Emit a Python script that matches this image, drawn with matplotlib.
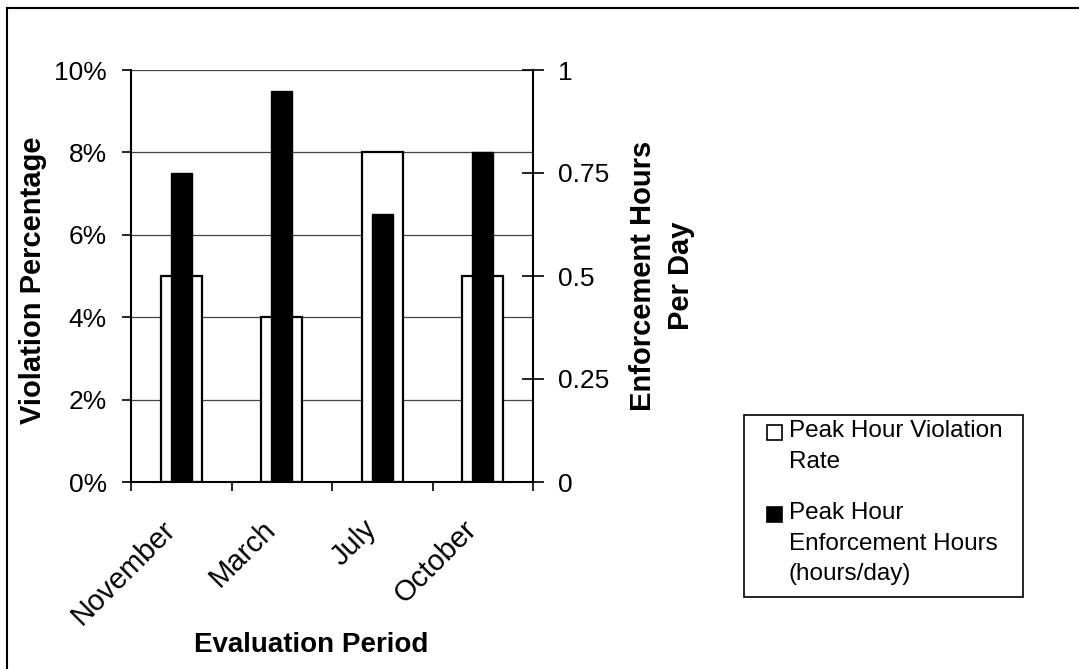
import numpy as np
import matplotlib
matplotlib.use("Agg")
import matplotlib.pyplot as plt
import matplotlib.transforms as mtransforms
from matplotlib.patches import Rectangle
from matplotlib.lines import Line2D
from matplotlib.ticker import PercentFormatter

# data
periods = ["November", "March", "July", "October"]
violation_rate = [5, 4, 8, 5]            # percent
enforcement_hours = [0.75, 0.95, 0.65, 0.80]   # hours/day
left_ticks = [0, 2, 4, 6, 8, 10]
right_ticks = [0, 0.25, 0.5, 0.75, 1]
right_tick_labels = ["0", "0.25", "0.5", "0.75", "1"]

plt.rcParams['font.family'] = ['Liberation Sans', 'DejaVu Sans']

W, H = 1079, 669
fig = plt.figure(figsize=(W / 100, H / 100), dpi=100)

def fx(px):
    return px / W

def fy(py):
    return 1 - py / H

# plot area in pixels: x 131..533, y 70..482
ax = fig.add_axes([fx(131), fy(482), fx(533) - fx(131), fy(70) - fy(482)])
ax2 = ax.twinx()

x = np.arange(len(periods))

ax.bar(x, violation_rate, width=0.41, color='white', edgecolor='black',
       linewidth=1.6, zorder=2)
ax2.bar(x, enforcement_hours, width=0.21, color='black', edgecolor='black',
        linewidth=1, zorder=2)

ax.set_xlim(-0.5, len(periods) - 0.5)
ax.set_ylim(0, 10)
ax2.set_ylim(0, 1)

# grid
ax.set_axisbelow(True)
ax.yaxis.grid(True, color='#444444', linewidth=0.9)
ax.set_yticks(left_ticks)
ax.yaxis.set_major_formatter(PercentFormatter(decimals=0))

ax2.set_yticks(right_ticks)
ax2.set_yticklabels(right_tick_labels)

# x ticks: marks at category boundaries, slanted names drawn as text
ax.set_xticks([])
ax.set_xticks(np.arange(-0.5, len(periods)), minor=True)
ax.tick_params(axis='x', which='minor', length=6.5, width=1.2, direction='out')
label_shift = mtransforms.ScaledTranslation(-0.2, -0.33, fig.dpi_scale_trans)
for xi, name in zip(x, periods):
    ax.text(xi, 0, name, transform=ax.get_xaxis_transform() + label_shift,
            rotation=45, ha='right', va='top', rotation_mode='anchor',
            fontsize=21)

ax.tick_params(axis='y', length=6.5, width=1.2, direction='out', pad=11,
               labelsize=19)
ax2.tick_params(axis='y', length=16, width=1.2, direction='inout', pad=10,
                labelsize=19)

for a in (ax, ax2):
    a.spines['top'].set_visible(False)
    for s in ('left', 'right', 'bottom'):
        a.spines[s].set_linewidth(1.5)
ax.spines['right'].set_visible(False)
ax2.spines['left'].set_visible(False)
ax2.spines['bottom'].set_visible(False)

# axis titles
ax.set_xlabel("Evaluation Period", fontsize=20, fontweight='bold')
ax.xaxis.set_label_coords((311 - 131) / 402, (482 - 645) / 412)
ax.xaxis.label.set_va('center')

ax.set_ylabel("Violation Percentage", fontsize=21, fontweight='bold')
ax.yaxis.set_label_coords((33 - 131) / 402, (482 - 280) / 412)
ax.yaxis.label.set_va('center')

ax2.set_ylabel("Enforcement Hours\nPer Day", fontsize=21, fontweight='bold',
               rotation=90, linespacing=1.45)
ax2.yaxis.set_label_coords((662 - 131) / 402, (482 - 276) / 412)
ax2.yaxis.label.set_va('center')
ax2.yaxis.label.set_ha('center')

# legend drawn by hand (box, swatches, text) in pixel positions
fig.patches.append(Rectangle((fx(744), fy(597)), fx(1023) - fx(744),
                             fy(415) - fy(597), transform=fig.transFigure,
                             facecolor='white', edgecolor='black',
                             linewidth=1.2))
legend_items = [("white", "Peak Hour Violation\nRate", 433),
                ("black", "Peak Hour\nEnforcement Hours\n(hours/day)", 515)]
for color, label, yc in legend_items:
    fig.patches.append(Rectangle((fx(767), fy(yc + 7)), fx(15), 15 / H,
                                 transform=fig.transFigure, facecolor=color,
                                 edgecolor='black', linewidth=1.2))
    fig.text(fx(789), fy(yc - 13), label, fontsize=17.5, va='top', ha='left',
             linespacing=1.5)

# outer frame (left and top edges)
fig.add_artist(Line2D([fx(7), fx(7)], [fy(8), 0], color='black', lw=1.5,
                      transform=fig.transFigure))
fig.add_artist(Line2D([fx(7), 1], [fy(8), fy(8)], color='black', lw=1.5,
                      transform=fig.transFigure))

fig.savefig("out.png", dpi=100)
